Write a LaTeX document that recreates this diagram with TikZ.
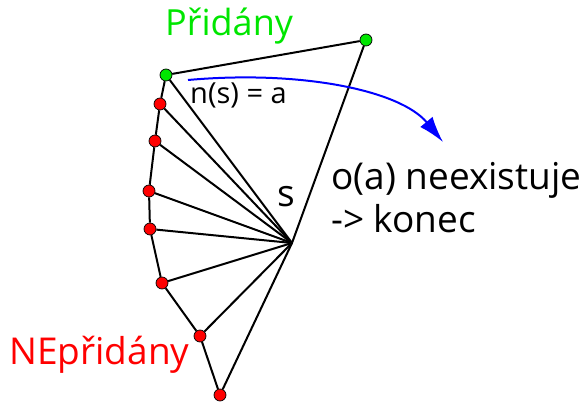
\documentclass[tikz,border=0pt]{standalone}
\usepackage{fontspec}
\setmainfont{Open Sans}
\usetikzlibrary{arrows.meta, positioning}
\definecolor{AddGreen}{RGB}{0,230,0}
\definecolor{NotRed}{RGB}{255,0,0}
\definecolor{ArcBlue}{RGB}{0,0,255}

\begin{document}
\begin{tikzpicture}[x=1pt, y=-1pt, dot/.style={circle, draw=black, line width=0.7pt, inner sep=0pt, minimum size=12pt}, added/.style={dot, fill=AddGreen}, notadded/.style={dot, fill=NotRed}, edge/.style={line width=2pt, draw=black}, arrow/.style={line width=2pt, draw=ArcBlue, -{Latex[length=26pt, width=16pt, inset=8pt]}}, label/.style={inner sep=0pt, anchor=base west}]
\useasboundingbox (0,0) rectangle (587,403);
\coordinate (s) at (292,243);
\node (g1) [added] at (366,40) {};
\node (g0) [added] at (166,75) {};
\node (r1) [notadded] at (160,104) {};
\node (r2) [notadded] at (155,141) {};
\node (r3) [notadded] at (149,191) {};
\node (r4) [notadded] at (150,229) {};
\node (r5) [notadded] at (162,283) {};
\node (r6) [notadded] at (200,336) {};
\node (r7) [notadded] at (220,395) {};

\draw [edge] (g0) -- (g1);
\draw [edge] (g1) -- (s) -- (r7);
\draw [edge] (g0) -- (r1) -- (r2) -- (r3) -- (r4) -- (r5) -- (r6) -- (r7);
\foreach \n in {g0,r1,r2,r3,r4,r5,r6}
  \draw [edge] (s) -- (\n);

\node (added) [label, text=AddGreen, font=\fontsize{36}{43}\selectfont] at (165,36) {Přidány};
\node (notadded) [label, text=NotRed, font=\fontsize{37}{44}\selectfont] at (9,365) {NEpřidány};
\node (ns) [label, font=\fontsize{29}{35}\selectfont] at (190,104) {n(s) = a};
\node (sname) [label, font=\fontsize{37}{44}\selectfont] at (277,207) {s};
\node (end1) [label, font=\fontsize{37}{44}\selectfont] at (331,190) {o(a) neexistuje};
\node (end2) [label, font=\fontsize{37}{44}\selectfont] at (331,233) {-> konec};
\coordinate (start) at (188,80);
\coordinate (tip) at (443,142);
\draw [arrow] (start) .. controls (300,70) and (400,90) .. (tip);
\end{tikzpicture}
\end{document}
